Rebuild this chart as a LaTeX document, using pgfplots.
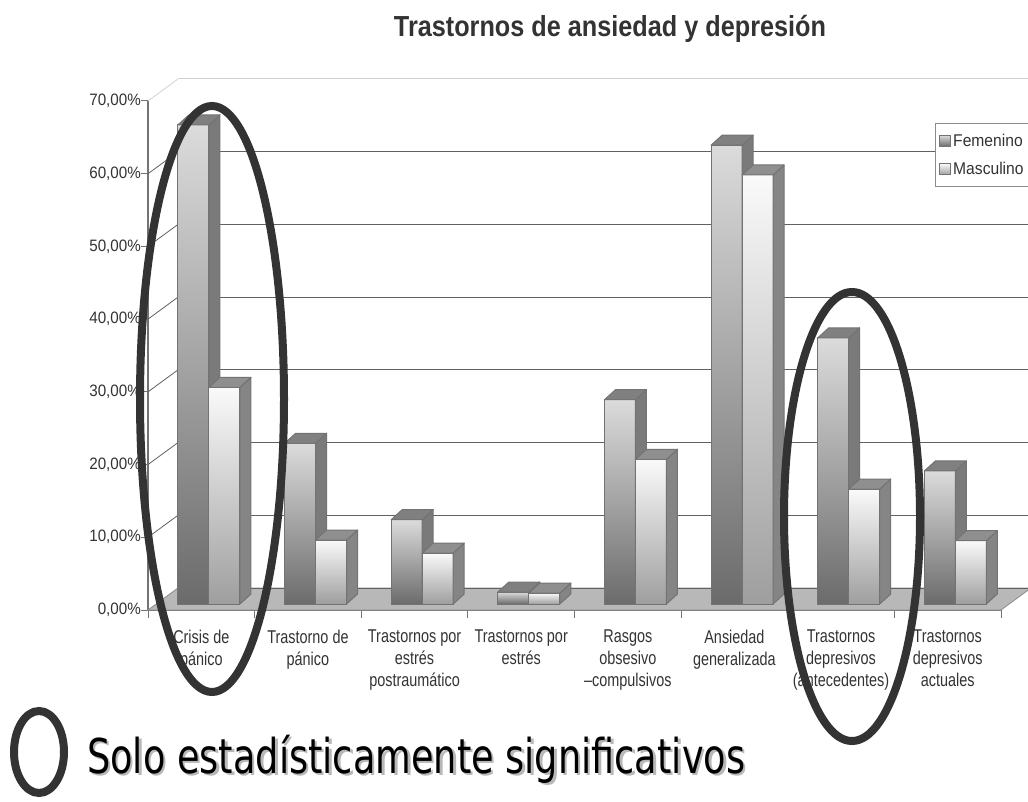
\documentclass[border=0pt]{standalone}
\usepackage{pgfplots}
\pgfplotsset{compat=1.18}
\usepackage{pgfplotstable}
\usepackage{graphicx}
\usepackage{fontspec}
\setmainfont{Liberation Sans}
\newfontfamily\catfont[FakeStretch=0.78]{Liberation Sans}
\newfontfamily\tickfont[FakeStretch=0.92]{Liberation Sans}
\newfontfamily\dejavu{DejaVu Sans}

\definecolor{txt}{gray}{0.2}
\definecolor{ffrontA}{gray}{0.86}
\definecolor{ffrontB}{gray}{0.42}
\definecolor{mfrontA}{gray}{0.98}
\definecolor{mfrontB}{gray}{0.62}
\definecolor{fside}{gray}{0.48}
\definecolor{ftop}{gray}{0.50}
\definecolor{mside}{gray}{0.52}
\definecolor{mtop}{gray}{0.56}
\definecolor{edge}{gray}{0.45}
\definecolor{floorc}{gray}{0.72}
\definecolor{gridc}{gray}{0.38}
\definecolor{ell}{gray}{0.2}

\pgfplotstableread{
cat fem mas
0 65.9 29.8
1 22.1 8.8
2 11.6 7.0
3 1.65 1.5
4 28.1 19.9
5 63.1 59.0
6 36.6 15.8
7 18.3 8.7
}\datatable

% #1 category, #2 value, #3 offset, #4 #5 front colours, #6 side, #7 top
\newcommand\drawbar[7]{%
  \pgfmathsetmacro\xL{#1+#3}%
  \pgfmathsetmacro\xR{\xL+0.2906}%
  \pgfmathsetmacro\xRR{\xR+0.1031}%
  \pgfmathsetmacro\xLL{\xL+0.1031}%
  \pgfmathsetmacro\yB{0.825}%
  \pgfmathsetmacro\yBB{0.825+1.375}%
  \pgfmathsetmacro\yT{0.825+#2}%
  \pgfmathsetmacro\yTT{\yT+1.375}%
  \edef\tmp{%
    \noexpand\addplot[forget plot, draw=edge, line width=1pt, line join=round, top color=#4, bottom color=#5] coordinates {(\xL,\yB) (\xR,\yB) (\xR,\yT) (\xL,\yT)} --cycle;%
    \noexpand\addplot[forget plot, draw=edge, line width=1pt, line join=round, fill=#6] coordinates {(\xR,\yB) (\xRR,\yBB) (\xRR,\yTT) (\xR,\yT)} --cycle;%
    \noexpand\addplot[forget plot, draw=edge, line width=1pt, line join=round, fill=#7] coordinates {(\xL,\yT) (\xR,\yT) (\xRR,\yTT) (\xLL,\yTT)} --cycle;%
  }\tmp
}

\begin{document}
\begin{tikzpicture}
\useasboundingbox (0,0) rectangle (1028pt,801pt);
\clip (0,0) rectangle (1028pt,801pt);
\begin{axis}[
  at={(148pt,191pt)}, anchor=south west,
  x=106.625pt, y=7.2714pt,
  xmin=0, xmax=8, ymin=0, ymax=70,
  clip=false,
  axis x line*=bottom, axis y line*=left,
  axis line style={draw=black!55, line width=1.2pt},
  tick align=outside,
  ytick={0,10,20,30,40,50,60,70},
  yticklabels={{0,00\%},{10,00\%},{20,00\%},{30,00\%},{40,00\%},{50,00\%},{60,00\%},{70,00\%}},
  ytick style={draw=black!55, line width=1pt},
  major tick length=7pt,
  xtick={0.5,1.5,2.5,3.5,4.5,5.5,6.5,7.5},
  xticklabels={{Crisis de\\pánico},{Trastorno de\\pánico},{Trastornos por\\estrés\\postraumático},{Trastornos por\\estrés},{Rasgos\\obsesivo\\–compulsivos},{Ansiedad\\generalizada},{Trastornos\\depresivos\\(antecedentes)},{Trastornos\\depresivos\\actuales}},
  minor xtick={0,1,2,3,4,5,6,7,8},
  major x tick style={draw=none},
  minor x tick style={draw=black!55, line width=1pt},
  minor tick length=8pt,
  xticklabel style={anchor=north, align=center, inner sep=0pt, yshift=-13pt, text=txt,
    font=\catfont\fontsize{18.5}{21.8}\selectfont},
  yticklabel style={anchor=east, inner sep=0pt, text=txt,
    font=\tickfont\fontsize{16.5}{19}\selectfont},
  legend style={at={(axis cs:7.381,66.97)}, anchor=north west, draw=black!45, line width=0.8pt,
    fill=white, font=\tickfont\fontsize{17}{20}\selectfont, text=txt, row sep=10.5pt, inner ysep=8.5pt, inner xsep=4pt},
  legend cell align=left,
  legend image code/.code={\draw[#1] (0pt,-5.5pt) rectangle (11pt,5.5pt);},
]
% floor
\addplot[forget plot, fill=floorc, draw=black!45, line width=0.8pt] coordinates {(0,0) (8,0) (8.2814,3.0255) (0.2814,3.0255)} --cycle;
% back wall grid
\addplot[forget plot, draw=gridc, line width=1pt] coordinates {(0.2814,3.0255) (8.6,3.0255)};
\addplot[forget plot, draw=gridc, line width=1pt] coordinates {(0.2814,13.0255) (8.6,13.0255)};
\addplot[forget plot, draw=gridc, line width=1pt] coordinates {(0.2814,23.0255) (8.6,23.0255)};
\addplot[forget plot, draw=gridc, line width=1pt] coordinates {(0.2814,33.0255) (8.6,33.0255)};
\addplot[forget plot, draw=gridc, line width=1pt] coordinates {(0.2814,43.0255) (8.6,43.0255)};
\addplot[forget plot, draw=gridc, line width=1pt] coordinates {(0.2814,53.0255) (8.6,53.0255)};
\addplot[forget plot, draw=gridc, line width=1pt] coordinates {(0.2814,63.0255) (8.6,63.0255)};
\addplot[forget plot, draw=black!18, line width=1pt] coordinates {(0.2814,73.0255) (8.6,73.0255)};
% side wall lines
\addplot[forget plot, draw=gridc, line width=0.8pt] coordinates {(0,10) (0.2814,13.0255)};
\addplot[forget plot, draw=gridc, line width=0.8pt] coordinates {(0,20) (0.2814,23.0255)};
\addplot[forget plot, draw=gridc, line width=0.8pt] coordinates {(0,30) (0.2814,33.0255)};
\addplot[forget plot, draw=gridc, line width=0.8pt] coordinates {(0,40) (0.2814,43.0255)};
\addplot[forget plot, draw=gridc, line width=0.8pt] coordinates {(0,50) (0.2814,53.0255)};
\addplot[forget plot, draw=gridc, line width=0.8pt] coordinates {(0,60) (0.2814,63.0255)};
\addplot[forget plot, draw=black!18, line width=0.8pt] coordinates {(0,70) (0.2814,73.0255)};
% bars
\pgfplotsinvokeforeach{0,...,7}{
  \pgfplotstablegetelem{#1}{fem}\of\datatable \let\vf\pgfplotsretval
  \pgfplotstablegetelem{#1}{mas}\of\datatable \let\vm\pgfplotsretval
  \drawbar{#1}{\vf}{0.2813}{ffrontA}{ffrontB}{fside}{ftop}
  \drawbar{#1}{\vm}{0.5719}{mfrontA}{mfrontB}{mside}{mtop}
}
\addlegendimage{top color=ffrontA, bottom color=ffrontB, draw=edge, line width=0.8pt}
\addlegendentry{Femenino}
\addlegendimage{top color=mfrontA, bottom color=mfrontB, draw=edge, line width=0.8pt}
\addlegendentry{Masculino}
\end{axis}
% title
\node[anchor=base, inner sep=0pt, text=txt] at (610pt,764pt)
  {\resizebox{432pt}{\height}{\fontsize{29}{34}\selectfont\bfseries Trastornos de ansiedad y depresión}};
% highlight ellipses
\draw[line width=8pt, draw=ell] (212pt,402pt) ellipse [x radius=72pt, y radius=293pt];
\draw[line width=8pt, draw=ell] (852pt,284.5pt) ellipse [x radius=68pt, y radius=224.5pt];
\draw[line width=8pt, draw=ell] (39pt,49pt) ellipse [x radius=25pt, y radius=41pt];
% note
\node[anchor=base west, inner sep=0pt, text=black!28] at (89.5pt,25.5pt)
  {\resizebox{658pt}{\height}{\dejavu\fontsize{48}{58}\selectfont Solo estadísticamente significativos}};
\node[anchor=base west, inner sep=0pt, text=black] at (87pt,28pt)
  {\resizebox{658pt}{\height}{\dejavu\fontsize{48}{58}\selectfont Solo estadísticamente significativos}};
\end{tikzpicture}
\end{document}
